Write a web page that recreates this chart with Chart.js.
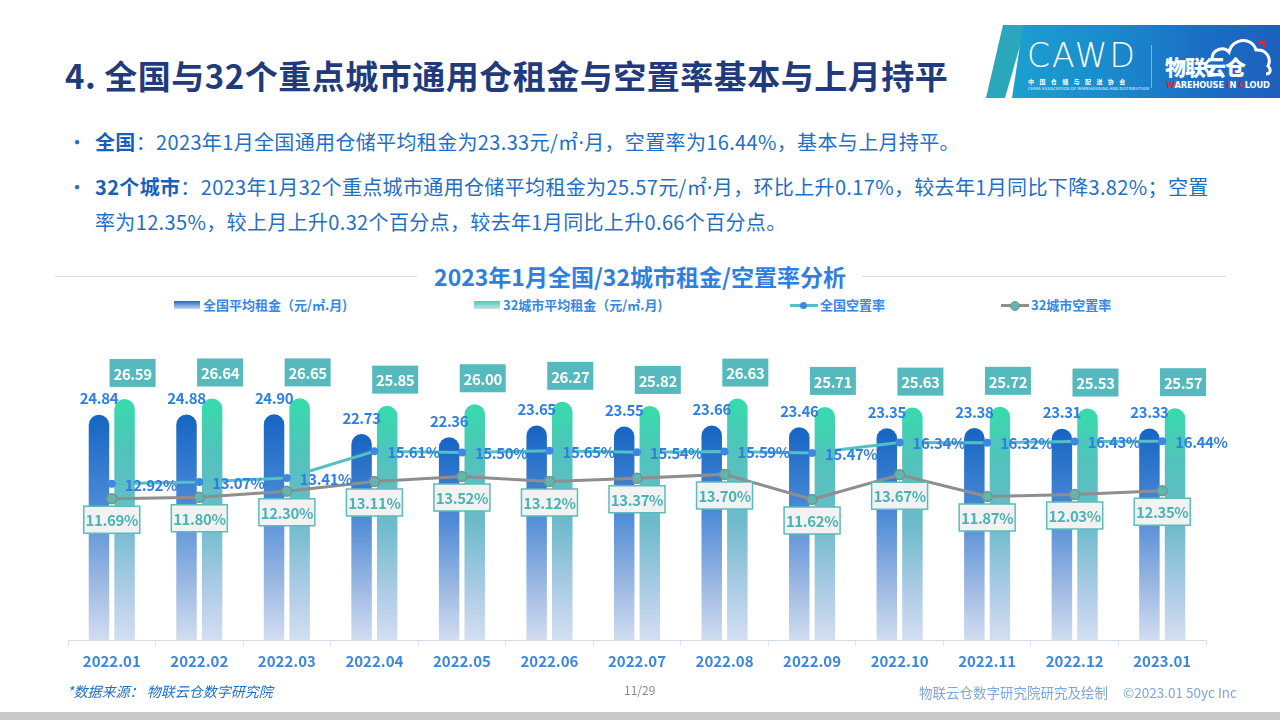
<!DOCTYPE html>
<html lang="zh-CN">
<head>
<meta charset="utf-8">
<title>全国与32个重点城市通用仓租金与空置率</title>
<script src="https://cdn.jsdelivr.net/npm/chart.js@4.4.0/dist/chart.umd.min.js"></script>
<style>
    html, body { margin: 0; padding: 0; }
    body {
        width: 1280px; height: 720px; position: relative; overflow: hidden;
        background: #fff; font-family: "Noto Sans CJK SC", "Noto Sans", sans-serif;
    }
    .page-title {
        position: absolute; left: 65px; top: 50px; line-height: 50px; letter-spacing: 0.5px;
        font-size: 33px; font-weight: 700; color: #1f3b7c; white-space: nowrap;
    }
    .logo-strip {
        position: absolute; left: 986px; top: 25px; width: 40px; height: 73px;
        background: #2aa7bb; clip-path: polygon(17px 0, 100% 0, 19px 100%, 0 100%);
    }
    .logo-main {
        position: absolute; left: 1012px; top: 25px; width: 268px; height: 73px;
        background: linear-gradient(90deg, #1c9fcf 0%, #1a8ccd 35%, #1b6fc4 70%, #1d5fbd 100%);
        clip-path: polygon(11px 0, 100% 0, 100% 100%, 0 100%);
    }
    .logo-text { position: absolute; color: #fff; white-space: nowrap; }
    .cawd { left: 1027px; top: 36px; font-family: "DejaVu Sans"; font-weight: 200; font-size: 33px; letter-spacing: 2px; }
    .cawd-cn { left: 1028px; top: 77px; font-size: 6px; font-weight: 700; letter-spacing: 5.4px; }
    .cawd-en { left: 1028px; top: 85px; font-size: 4px; letter-spacing: 0.2px; }
    .logo-div { position: absolute; left: 1151px; top: 45px; width: 1px; height: 43px; background: rgba(255,255,255,0.45); }
    .wic-cn { left: 1165px; top: 51px; font-size: 21px; font-weight: 900; letter-spacing: -1px; }
    .wic-en { left: 1166px; top: 80px; font-size: 8.3px; font-weight: 700; font-family: "DejaVu Sans"; letter-spacing: -0.2px; }
    .wic-en span { color: #e3262c; }
    .cloud { position: absolute; left: 1200px; top: 30px; }

    .bullet { position: absolute; left: 67px; font-size: 20px; line-height: 35px; color: #1f6fc5; }
    .line { position: absolute; left: 95px; font-size: 20px; line-height: 35px; letter-spacing: 0.35px; color: #1f6fc5; white-space: nowrap; }
    .line b { color: #1760b9; }
    .dot { font-family: "Noto Sans", sans-serif; }

    .chart-title {
        position: absolute; left: 0; width: 1280px; top: 260px; text-align: center;
        font-size: 23px; font-weight: 700; color: #2f7fe0; line-height: 32px;
    }
    .rule { position: absolute; top: 276px; height: 1px; background: #dddddd; }

    .legend { position: absolute; top: 296px; height: 18px; font-size: 13px; font-weight: 700; color: #3a86e0; line-height: 18px; white-space: nowrap; }
    .swatch { position: absolute; top: 5px; width: 26px; height: 8px; }
    .legend span.txt { position: absolute; }

    #chartBox { position: absolute; left: 0; top: 320px; width: 1280px; height: 380px; }

    .foot-src { position: absolute; left: 67px; top: 681px; font-size: 14px; font-style: italic; color: #1f6fc5; }
    .foot-page { position: absolute; left: 624px; top: 681px; font-size: 12px; color: #8a8a8a; }
    .foot-right { position: absolute; right: 43px; top: 682px; font-size: 13.5px; color: #7ea6dc; white-space: nowrap; }
    .bottom-bar { position: absolute; left: 0; top: 712px; width: 1280px; height: 8px; background: #c9c9c9; }
</style>
</head>
<body>

<div class="page-title">4. 全国与32个重点城市通用仓租金与空置率基本与上月持平</div>

<div class="logo-strip"></div>
<div class="logo-main"></div>
<div class="logo-text cawd">CAWD</div>
<div class="logo-text cawd-cn">中国仓储与配送协会</div>
<div class="logo-text cawd-en">CHINA ASSOCIATION OF WAREHOUSING AND DISTRIBUTION</div>
<div class="logo-div"></div>
<svg class="cloud" width="75" height="50" viewBox="0 0 75 50">
    <path d="M14 44 C4 44 2 32 12 29 C12 19 24 16 29 22 C32 8 52 6 56 20 C66 19 72 28 68 36 C72 40 70 44 66 44"
          fill="none" stroke="#fff" stroke-width="3"/>
    <path d="M58 12 L64 12 L64 18" fill="none" stroke="#e3262c" stroke-width="2.5"/>
</svg>
<div class="logo-text wic-cn">物联云仓</div>
<div class="logo-text wic-en"><span>W</span>AREHOUSE <span>I</span>N <span>C</span>LOUD</div>

<div class="bullet" style="top:124px">•</div>
<div class="line" style="top:124px"><b>全国</b>：2023年1月全国通用仓储平均租金为23.33元/㎡<span class="dot">·</span>月，空置率为16.44%，基本与上月持平。</div>
<div class="bullet" style="top:169px">•</div>
<div class="line" style="top:169px"><b>32个城市</b>：2023年1月32个重点城市通用仓储平均租金为25.57元/㎡<span class="dot">·</span>月，环比上升0.17%，较去年1月同比下降3.82%；空置</div>
<div class="line" style="top:204px">率为12.35%，较上月上升0.32个百分点，较去年1月同比上升0.66个百分点。</div>

<div class="rule" style="left:55px; width:362px"></div>
<div class="rule" style="left:862px; width:364px"></div>
<div class="chart-title">2023年1月全国/32城市租金/空置率分析</div>

<div class="legend" style="left:174px">
    <div class="swatch" style="left:0; background:linear-gradient(180deg,#1c68c4,#c9d8f0)"></div>
    <span class="txt" style="left:29px">全国平均租金（元/㎡.月)</span>
</div>
<div class="legend" style="left:474px">
    <div class="swatch" style="left:0; background:linear-gradient(180deg,#45cdb2,#cde0ea)"></div>
    <span class="txt" style="left:29px">32城市平均租金（元/㎡.月)</span>
</div>
<div class="legend" style="left:790px">
    <div style="position:absolute; left:0; top:8px; width:28px; height:3px; background:#55bfc6"></div>
    <div style="position:absolute; left:10px; top:6px; width:7px; height:7px; border-radius:50%; background:#3d87e3"></div>
    <span class="txt" style="left:30px">全国空置率</span>
</div>
<div class="legend" style="left:1001px">
    <div style="position:absolute; left:0; top:8px; width:28px; height:3px; background:#8e8e8e"></div>
    <div style="position:absolute; left:9px; top:5px; width:8px; height:8px; border-radius:50%; background:#5cb9ad; border:1px solid #7f8f8c"></div>
    <span class="txt" style="left:30px">32城市空置率</span>
</div>

<div id="chartBox"><canvas id="rentChart"></canvas></div>

<div class="foot-src">*数据来源： 物联云仓数字研究院</div>
<div class="foot-page">11/29</div>
<div class="foot-right">物联云仓数字研究院研究及绘制&nbsp;&nbsp;&nbsp;&nbsp;&nbsp;©2023.01 50yc Inc</div>
<div class="bottom-bar"></div>

<script>
const months = ["2022.01", "2022.02", "2022.03", "2022.04", "2022.05", "2022.06", "2022.07",
    "2022.08", "2022.09", "2022.10", "2022.11", "2022.12", "2023.01"];
const nationalRent = [24.84, 24.88, 24.90, 22.73, 22.36, 23.65, 23.55, 23.66, 23.46, 23.35, 23.38, 23.31, 23.33];
const cityRent = [26.59, 26.64, 26.65, 25.85, 26.00, 26.27, 25.82, 26.63, 25.71, 25.63, 25.72, 25.53, 25.57];
const nationalVacancy = [12.92, 13.07, 13.41, 15.61, 15.50, 15.65, 15.54, 15.59, 15.47, 16.34, 16.32, 16.43, 16.44];
const cityVacancy = [11.69, 11.80, 12.30, 13.11, 13.52, 13.12, 13.37, 13.70, 11.62, 13.67, 11.87, 12.03, 12.35];

const FONT = "'Noto Sans CJK SC', 'Noto Sans', sans-serif";

// vertical gradient from the top of each bar down to the axis
function barGradient(stops) {
    return function (context) {
        const chart = context.chart;
        const area = chart.chartArea;
        if (!area || context.raw === undefined) {
            return stops[0][1];
        }
        const yTop = chart.scales.y.getPixelForValue(context.raw);
        const g = chart.ctx.createLinearGradient(0, yTop, 0, area.bottom);
        stops.forEach(function (s) { g.addColorStop(s[0], s[1]); });
        return g;
    };
}

const valueLabels = {
    id: "valueLabels",
    afterDatasetsDraw(chart) {
        const ctx = chart.ctx;
        ctx.save();
        ctx.textBaseline = "middle";
        ctx.font = "bold 15px " + FONT;
        ctx.letterSpacing = "-0.4px";

        chart.getDatasetMeta(0).data.forEach(function (bar, i) {
            ctx.textAlign = "center";
            ctx.fillStyle = "#2f7fe0";
            ctx.fillText(nationalRent[i].toFixed(2), bar.x, bar.y - 16);
        });

        chart.getDatasetMeta(1).data.forEach(function (bar, i) {
            const cx = bar.x + 8, cy = bar.y - 26;
            ctx.fillStyle = "#55b9bd";
            ctx.fillRect(cx - 23, cy - 14, 46, 28);
            ctx.textAlign = "center";
            ctx.fillStyle = "#ffffff";
            ctx.fillText(cityRent[i].toFixed(2), cx, cy + 1);
        });

        chart.getDatasetMeta(2).data.forEach(function (pt, i) {
            ctx.textAlign = "left";
            ctx.fillStyle = "#2f7fe0";
            ctx.fillText(nationalVacancy[i].toFixed(2) + "%", pt.x + 13, pt.y + 1);
        });

        chart.getDatasetMeta(3).data.forEach(function (pt, i) {
            const cx = pt.x, cy = pt.y + 21;
            ctx.beginPath();
            ctx.rect(cx - 28, cy - 13.5, 56, 27);
            ctx.fillStyle = "#f2f2f2";
            ctx.fill();
            ctx.lineWidth = 1.5;
            ctx.strokeStyle = "#5bbcbc";
            ctx.stroke();
            ctx.textAlign = "center";
            ctx.fillStyle = "#4bb3b4";
            ctx.fillText(cityVacancy[i].toFixed(2) + "%", cx, cy + 1);
        });
        ctx.restore();
    }
};

document.addEventListener("DOMContentLoaded", function () {
    const canvas = document.getElementById("rentChart");
    if (!canvas) {
        console.error("Canvas 'rentChart' not found.");
        return;
    }

    new Chart(canvas, {
        type: "bar",
        data: {
            labels: months,
            datasets: [
                {
                    label: "全国平均租金（元/㎡.月)",
                    data: nationalRent,
                    yAxisID: "y",
                    order: 2,
                    backgroundColor: barGradient([[0, "#1565c3"], [0.4, "#4c8ad6"], [0.75, "#9db9e2"], [1, "#d1ddf1"]]),
                    borderRadius: 12,
                    borderSkipped: "bottom",
                    categoryPercentage: 0.585,
                    barPercentage: 0.8
                },
                {
                    label: "32城市平均租金（元/㎡.月)",
                    data: cityRent,
                    yAxisID: "y",
                    order: 2,
                    backgroundColor: barGradient([[0, "#36dcab"], [0.22, "#50c3bb"], [0.5, "#6cbacb"], [0.78, "#abcbe5"], [1, "#d3def1"]]),
                    borderRadius: 12,
                    borderSkipped: "bottom",
                    categoryPercentage: 0.585,
                    barPercentage: 0.8
                },
                {
                    type: "line",
                    label: "全国空置率",
                    data: nationalVacancy,
                    yAxisID: "y1",
                    order: 1,
                    borderColor: "#55bfc6",
                    borderWidth: 3,
                    tension: 0,
                    pointRadius: 4,
                    pointBackgroundColor: "#3d87e3",
                    pointBorderColor: "#3d87e3",
                    pointBorderWidth: 0
                },
                {
                    type: "line",
                    label: "32城市空置率",
                    data: cityVacancy,
                    yAxisID: "y1",
                    order: 1,
                    borderColor: "#8e8e8e",
                    borderWidth: 3,
                    tension: 0,
                    pointRadius: 5,
                    pointBackgroundColor: "#5cb9ad",
                    pointBorderColor: "#7f8f8c",
                    pointBorderWidth: 1.5
                }
            ]
        },
        options: {
            responsive: true,
            maintainAspectRatio: false,
            animation: false,
            layout: { padding: { left: 68, right: 74, top: 48, bottom: 8 } },
            plugins: {
                legend: { display: false },
                tooltip: { enabled: false }
            },
            scales: {
                x: {
                    grid: {
                        drawOnChartArea: false,
                        drawTicks: true,
                        tickLength: 6,
                        tickColor: "#dbe2ee"
                    },
                    border: { display: true, color: "#d3dbea", width: 1 },
                    ticks: {
                        color: "#3a86e0",
                        font: { family: FONT, size: 15, weight: "bold" },
                        padding: 6,
                        maxRotation: 0
                    },
                    afterFit: function (scale) { scale.height = 52; }
                },
                y: {
                    display: false,
                    min: 0,
                    max: 30
                },
                y1: {
                    display: false,
                    position: "right",
                    min: 0,
                    max: 22.5
                }
            }
        },
        plugins: [valueLabels]
    });
});
</script>
</body>
</html>
